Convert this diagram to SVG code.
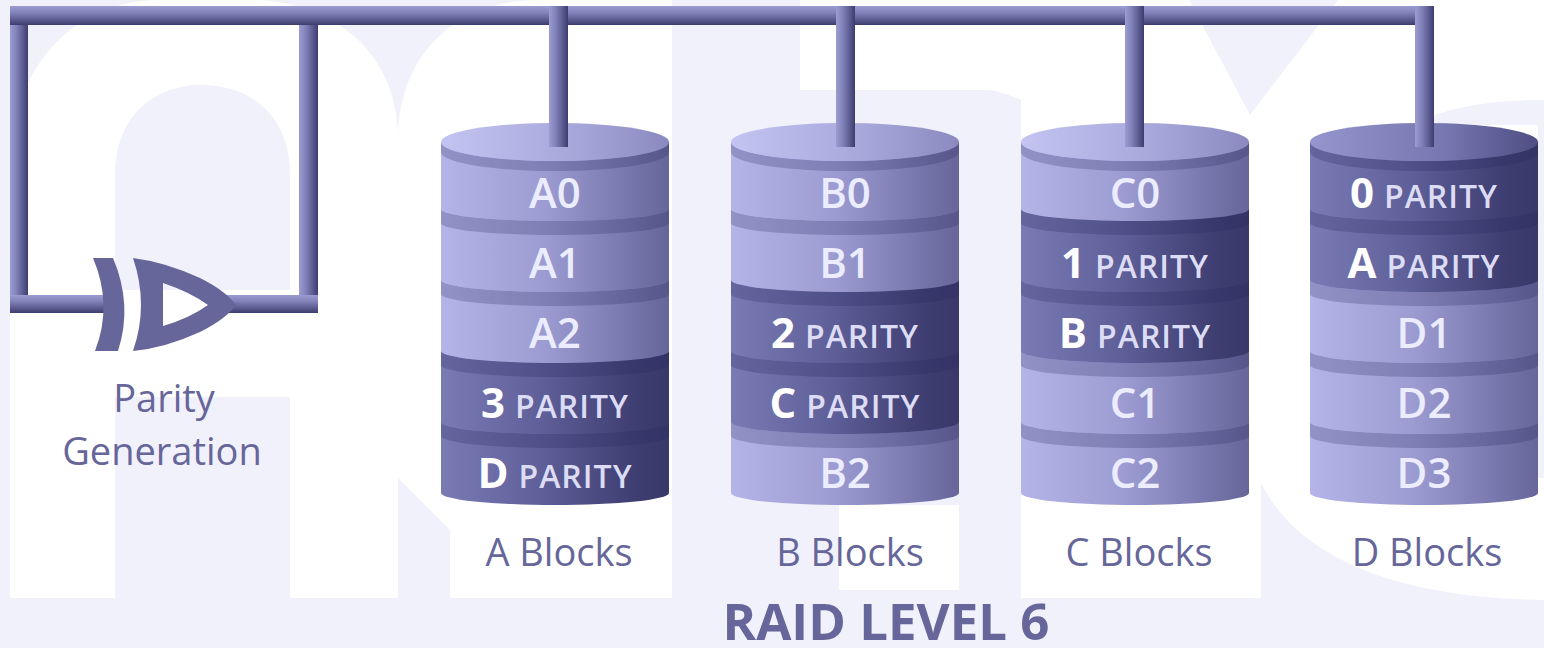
<svg xmlns="http://www.w3.org/2000/svg" width="1544" height="648" viewBox="0 0 1544 648">
  <defs>
    <style>
      .slice-txt { font-family: "Open Sans", "Liberation Sans", sans-serif; font-weight: 600; font-size: 42px; fill: #ececff; text-anchor: middle; }
      .big { font-weight: 700; font-size: 42px; fill: #ffffff; }
      .small { font-weight: 600; font-size: 32px; fill: #dcdcf4; letter-spacing: 1px; }
      .caption { font-family: "Open Sans", "Liberation Sans", sans-serif; font-weight: 400; font-size: 38px; fill: #66669a; text-anchor: middle; }
      .title { font-family: "Open Sans", "Liberation Sans", sans-serif; font-weight: 700; font-size: 51px; fill: #66669a; text-anchor: middle; }
      .shade { fill: #24245a; opacity: 0.24; }
      .gate { fill: #66669a; }
    </style>
    <!-- cylinder side shading -->
    <linearGradient id="light" x1="0" y1="0" x2="1" y2="0">
      <stop offset="0" stop-color="#b4b4e8"/>
      <stop offset="0.45" stop-color="#9c9cd2"/>
      <stop offset="0.85" stop-color="#7474aa"/>
      <stop offset="1" stop-color="#66669a"/>
    </linearGradient>
    <linearGradient id="dark" x1="0" y1="0" x2="1" y2="0">
      <stop offset="0" stop-color="#7a7ab4"/>
      <stop offset="0.45" stop-color="#5e5e98"/>
      <stop offset="0.85" stop-color="#3e3e72"/>
      <stop offset="1" stop-color="#38386a"/>
    </linearGradient>
    <linearGradient id="capLight" x1="0" y1="0" x2="1" y2="0">
      <stop offset="0" stop-color="#c4c4f2"/>
      <stop offset="0.6" stop-color="#a6a6da"/>
      <stop offset="1" stop-color="#8a8ac0"/>
    </linearGradient>
    <linearGradient id="capDark" x1="0" y1="0" x2="1" y2="0">
      <stop offset="0" stop-color="#9696ce"/>
      <stop offset="0.6" stop-color="#7676b0"/>
      <stop offset="1" stop-color="#4e4e84"/>
    </linearGradient>
    <!-- bus bar shading -->
    <linearGradient id="barH" x1="0" y1="0" x2="0" y2="1">
      <stop offset="0" stop-color="#9c9cd2"/>
      <stop offset="0.35" stop-color="#8282ba"/>
      <stop offset="0.7" stop-color="#5e5e94"/>
      <stop offset="1" stop-color="#3c3c6e"/>
    </linearGradient>
    <linearGradient id="barV" x1="0" y1="0" x2="1" y2="0">
      <stop offset="0" stop-color="#9c9cd2"/>
      <stop offset="0.35" stop-color="#8282ba"/>
      <stop offset="0.7" stop-color="#5e5e94"/>
      <stop offset="1" stop-color="#3c3c6e"/>
    </linearGradient>
  </defs>

  <!-- backdrop: pale lettering behind the diagram -->
  <g id="backdrop">
    <rect x="0" y="0" width="1544" height="648" fill="#f1f1fc"/>
    <path fill="#ffffff" d="M10,598 V170 C10,60 80,0 160,0 H250 C330,0 398,50 398,140 V598 Z"/>
    <path fill="#f1f1fc" d="M115,290 V175 C115,115 155,85 202,85 C250,85 290,115 290,175 V290 Z"/>
    <rect x="115" y="397" width="175" height="201" fill="#f1f1fc"/>
    <path fill="#ffffff" d="M398,478 L450,530 V598 H672 V0 H540 C450,0 398,60 398,140 Z"/>
    <path fill="#ffffff" d="M800,0 H1189 L1250,115 L1338,0 H1544 V100 C1480,100 1440,110 1413,125 L1261,125 V483 C1300,560 1400,598 1544,600 V478 H1538 V125 H1261 V598 H1021 V100 C1010,95 1000,92 990,90 L800,90 Z"/>
    <rect x="839" y="505" width="120" height="85" fill="#ffffff"/>
  </g>

  <!-- bus connectors -->
  <g id="connectors">
    <rect x="10" y="6" width="18" height="307" fill="url(#barV)"/>
    <rect x="299" y="6" width="19" height="307" fill="url(#barV)"/>
    <rect x="549" y="6" width="19" height="141" fill="url(#barV)"/>
    <rect x="836" y="6" width="19" height="141" fill="url(#barV)"/>
    <rect x="1125" y="6" width="19" height="141" fill="url(#barV)"/>
    <rect x="1415" y="6" width="19" height="141" fill="url(#barV)"/>
    <rect x="10" y="6" width="1424" height="19" fill="url(#barH)"/>
    <rect x="10" y="295" width="308" height="18" fill="url(#barH)"/>
  </g>

  <!-- XOR parity generator -->
  <g id="parity-gate">
    <rect x="113" y="292" width="112" height="24" fill="#ffffff"/>
    <path class="gate" d="M93,258 H113 Q133,305 118,351 H95 Q113,305 93,258 Z"/>
    <path class="gate" fill-rule="evenodd" d="M133,258 Q165,262 200,278 Q226,291 236,305 Q226,319 200,332 Q165,348 133,351 Q149,305 133,258 Z M163,283 Q190,292 208,305 Q190,318 163,326 Z"/>
    <text class="caption" x="164" y="412">Parity</text>
    <text class="caption" x="162" y="465">Generation</text>
  </g>

  <!-- disk A -->
  <g id="disk-a">
    <path fill="url(#dark)" d="M441,422 V493 A114,12 0 0 0 669,493 V422 Z"/>
    <path class="shade" d="M441,422 A114,12 0 0 0 669,422 V436 A114,12 0 0 1 441,436 Z"/>
    <path fill="url(#dark)" d="M441,351 V422 A114,12 0 0 0 669,422 V351 Z"/>
    <path class="shade" d="M441,351 A114,12 0 0 0 669,351 V365 A114,12 0 0 1 441,365 Z"/>
    <path fill="url(#light)" d="M441,280 V351 A114,12 0 0 0 669,351 V280 Z"/>
    <path class="shade" d="M441,280 A114,12 0 0 0 669,280 V294 A114,12 0 0 1 441,294 Z"/>
    <path fill="url(#light)" d="M441,209 V280 A114,12 0 0 0 669,280 V209 Z"/>
    <path class="shade" d="M441,209 A114,12 0 0 0 669,209 V223 A114,12 0 0 1 441,223 Z"/>
    <path fill="url(#light)" d="M441,142 V209 A114,12 0 0 0 669,209 V142 Z"/>
    <path class="shade" d="M441,142 A114,19 0 0 0 669,142 V152 A114,19 0 0 1 441,152 Z"/>
    <ellipse cx="555" cy="142" rx="114" ry="19" fill="url(#capLight)"/>
    <rect x="549" y="6" width="19" height="141" fill="url(#barV)"/>
    <text class="slice-txt" x="555" y="208">A0</text>
    <text class="slice-txt" x="555" y="278">A1</text>
    <text class="slice-txt" x="555" y="348">A2</text>
    <text class="slice-txt" x="555" y="418"><tspan class="big">3</tspan><tspan class="small" dx="10">PARITY</tspan></text>
    <text class="slice-txt" x="555" y="488"><tspan class="big">D</tspan><tspan class="small" dx="10">PARITY</tspan></text>
    <text class="caption" x="559" y="566">A Blocks</text>
  </g>

  <!-- disk B -->
  <g id="disk-b">
    <path fill="url(#light)" d="M731,422 V493 A114,12 0 0 0 959,493 V422 Z"/>
    <path class="shade" d="M731,422 A114,12 0 0 0 959,422 V436 A114,12 0 0 1 731,436 Z"/>
    <path fill="url(#dark)" d="M731,351 V422 A114,12 0 0 0 959,422 V351 Z"/>
    <path class="shade" d="M731,351 A114,12 0 0 0 959,351 V365 A114,12 0 0 1 731,365 Z"/>
    <path fill="url(#dark)" d="M731,280 V351 A114,12 0 0 0 959,351 V280 Z"/>
    <path class="shade" d="M731,280 A114,12 0 0 0 959,280 V294 A114,12 0 0 1 731,294 Z"/>
    <path fill="url(#light)" d="M731,209 V280 A114,12 0 0 0 959,280 V209 Z"/>
    <path class="shade" d="M731,209 A114,12 0 0 0 959,209 V223 A114,12 0 0 1 731,223 Z"/>
    <path fill="url(#light)" d="M731,142 V209 A114,12 0 0 0 959,209 V142 Z"/>
    <path class="shade" d="M731,142 A114,19 0 0 0 959,142 V152 A114,19 0 0 1 731,152 Z"/>
    <ellipse cx="845" cy="142" rx="114" ry="19" fill="url(#capLight)"/>
    <rect x="836" y="6" width="19" height="141" fill="url(#barV)"/>
    <text class="slice-txt" x="845" y="208">B0</text>
    <text class="slice-txt" x="845" y="278">B1</text>
    <text class="slice-txt" x="845" y="348"><tspan class="big">2</tspan><tspan class="small" dx="10">PARITY</tspan></text>
    <text class="slice-txt" x="845" y="418"><tspan class="big">C</tspan><tspan class="small" dx="10">PARITY</tspan></text>
    <text class="slice-txt" x="845" y="488">B2</text>
    <text class="caption" x="850" y="566">B Blocks</text>
  </g>

  <!-- disk C -->
  <g id="disk-c">
    <path fill="url(#light)" d="M1021,422 V493 A114,12 0 0 0 1249,493 V422 Z"/>
    <path class="shade" d="M1021,422 A114,12 0 0 0 1249,422 V436 A114,12 0 0 1 1021,436 Z"/>
    <path fill="url(#light)" d="M1021,351 V422 A114,12 0 0 0 1249,422 V351 Z"/>
    <path class="shade" d="M1021,351 A114,12 0 0 0 1249,351 V365 A114,12 0 0 1 1021,365 Z"/>
    <path fill="url(#dark)" d="M1021,280 V351 A114,12 0 0 0 1249,351 V280 Z"/>
    <path class="shade" d="M1021,280 A114,12 0 0 0 1249,280 V294 A114,12 0 0 1 1021,294 Z"/>
    <path fill="url(#dark)" d="M1021,209 V280 A114,12 0 0 0 1249,280 V209 Z"/>
    <path class="shade" d="M1021,209 A114,12 0 0 0 1249,209 V223 A114,12 0 0 1 1021,223 Z"/>
    <path fill="url(#light)" d="M1021,142 V209 A114,12 0 0 0 1249,209 V142 Z"/>
    <path class="shade" d="M1021,142 A114,19 0 0 0 1249,142 V152 A114,19 0 0 1 1021,152 Z"/>
    <ellipse cx="1135" cy="142" rx="114" ry="19" fill="url(#capLight)"/>
    <rect x="1125" y="6" width="19" height="141" fill="url(#barV)"/>
    <text class="slice-txt" x="1135" y="208">C0</text>
    <text class="slice-txt" x="1135" y="278"><tspan class="big">1</tspan><tspan class="small" dx="10">PARITY</tspan></text>
    <text class="slice-txt" x="1135" y="348"><tspan class="big">B</tspan><tspan class="small" dx="10">PARITY</tspan></text>
    <text class="slice-txt" x="1135" y="418">C1</text>
    <text class="slice-txt" x="1135" y="488">C2</text>
    <text class="caption" x="1139" y="566">C Blocks</text>
  </g>

  <!-- disk D -->
  <g id="disk-d">
    <path fill="url(#light)" d="M1310,422 V493 A114,12 0 0 0 1538,493 V422 Z"/>
    <path class="shade" d="M1310,422 A114,12 0 0 0 1538,422 V436 A114,12 0 0 1 1310,436 Z"/>
    <path fill="url(#light)" d="M1310,351 V422 A114,12 0 0 0 1538,422 V351 Z"/>
    <path class="shade" d="M1310,351 A114,12 0 0 0 1538,351 V365 A114,12 0 0 1 1310,365 Z"/>
    <path fill="url(#light)" d="M1310,280 V351 A114,12 0 0 0 1538,351 V280 Z"/>
    <path class="shade" d="M1310,280 A114,12 0 0 0 1538,280 V294 A114,12 0 0 1 1310,294 Z"/>
    <path fill="url(#dark)" d="M1310,209 V280 A114,12 0 0 0 1538,280 V209 Z"/>
    <path class="shade" d="M1310,209 A114,12 0 0 0 1538,209 V223 A114,12 0 0 1 1310,223 Z"/>
    <path fill="url(#dark)" d="M1310,142 V209 A114,12 0 0 0 1538,209 V142 Z"/>
    <path class="shade" d="M1310,142 A114,19 0 0 0 1538,142 V152 A114,19 0 0 1 1310,152 Z"/>
    <ellipse cx="1424" cy="142" rx="114" ry="19" fill="url(#capDark)"/>
    <rect x="1415" y="6" width="19" height="141" fill="url(#barV)"/>
    <text class="slice-txt" x="1424" y="208"><tspan class="big">0</tspan><tspan class="small" dx="10">PARITY</tspan></text>
    <text class="slice-txt" x="1424" y="278"><tspan class="big">A</tspan><tspan class="small" dx="10">PARITY</tspan></text>
    <text class="slice-txt" x="1424" y="348">D1</text>
    <text class="slice-txt" x="1424" y="418">D2</text>
    <text class="slice-txt" x="1424" y="488">D3</text>
    <text class="caption" x="1427" y="566">D Blocks</text>
  </g>

  <text id="title" class="title" x="886" y="640">RAID LEVEL 6</text>
</svg>
